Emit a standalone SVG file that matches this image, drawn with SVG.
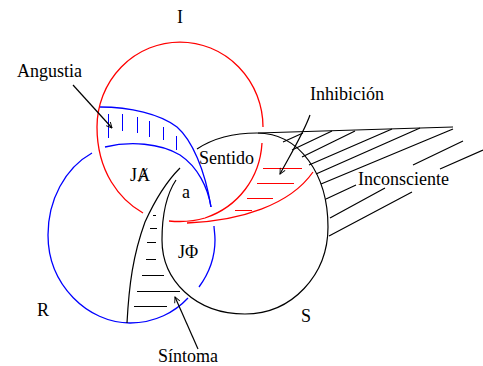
<svg xmlns="http://www.w3.org/2000/svg" width="483" height="366" viewBox="0 0 483 366">
<style>
.r{fill:none;stroke:#ff0000;stroke-width:1.3}
.b{fill:none;stroke:#0000ff;stroke-width:1.3}
.k{fill:none;stroke:#000;stroke-width:1.2}
.h{shape-rendering:crispEdges;stroke-width:1}
.t{font-family:"Liberation Serif","DejaVu Serif",serif;font-size:18px;fill:#000}
</style>
<defs>
<marker id="ah" viewBox="0 0 10 10" refX="9" refY="5" markerWidth="7" markerHeight="7" orient="auto" markerUnits="userSpaceOnUse">
<path d="M1,1 L9,5 L1,9" fill="none" stroke="#000" stroke-width="1.3"/>
</marker>
</defs>
<rect width="483" height="366" fill="#fff"/>

<g id="ring-S">
<path class="k" d="M197,149 C215,137 237,133 257,133 C300,133 328,175 328,227 C328,275 292,314 245,314 C195,314 162,280 162,240 C162,215 166,195 176,180"/>
</g>

<g id="inconsciente">
<path class="k" d="M258,133 L453,127"/>
<path class="k" d="M283,142 L303,133 M292,150 L332,131 M302,157 L355,131 M309,165 L392,129 M316,174 L420,128 M321,184 L453,129 M326,199 L356,185 M413,165 L463,141 M330,218 L385,188 M440,169 L483,150 M329,236 L412,192"/>
</g>

<g id="ring-R">
<path class="b" d="M92,153 C65,168 48,200 48,235 C48,285 88,323 130,323 C155,323 175,312 188,298"/>
<path class="b" d="M199,287 C210,272 215,255 215,240 C215,234 214,229 214,226"/>
<path class="b" d="M105,147 C130,141 160,143 180,155 C198,167 208,188 211,207"/>
</g>

<g id="angustia">
<path class="b" d="M100,107 C130,107 160,114 177,127 C192,140 205,170 211,207"/>
<path class="b h" d="M108.5,114 V138 M122.5,114 V131 M137.5,117 V133 M149.5,121 V137 M163.5,127 V140 M176.5,136 V150"/>
</g>

<g id="ring-I">
<path class="r" d="M143,213 C120,200 97,172 97,127 A83,85 0 0 1 263,127"/>
<path class="r" d="M262,143 C260,178 238,207 205,218 C192,222 180,222 169,221"/>
</g>

<g id="inhibicion">
<path class="r" d="M187,223 C240,221 290,205 313,172"/>
<path class="r h" d="M263,168.5 H302 M257,183.5 H294 M247,198.5 H273 M235,210.5 H252"/>
</g>

<g id="sintoma">
<path class="k" d="M127,323 C129,285 133,255 145,222 C155,200 168,180 180,168"/>
<path class="k h" d="M153,215.5 H156 M150,228.5 H157 M147,242.5 H156 M146,259.5 H156 M142,275.5 H164 M137,291.5 H180 M134,306.5 H167"/>
</g>

<g id="labels">
<text class="t" x="180" y="23" text-anchor="middle">I</text>
<text class="t" x="17" y="77">Angustia</text>
<text class="t" x="310" y="100">Inhibición</text>
<text class="t" x="199" y="164">Sentido</text>
<text class="t" x="358" y="185">Inconsciente</text>
<text class="t" x="130" y="181">JȺ</text>
<text class="t" x="182" y="198">a</text>
<text class="t" x="178" y="258">JΦ</text>
<text class="t" x="37" y="316">R</text>
<text class="t" x="301" y="322">S</text>
<text class="t" x="158" y="362">Síntoma</text>
</g>

<g id="connectors">
<path class="k" d="M73,85 L112,128" marker-end="url(#ah)"/>
<path class="k" d="M310,115 C304,132 292,152 280,174" marker-end="url(#ah)"/>
<path class="k" d="M198,349 L175,297" marker-end="url(#ah)"/>
</g>
</svg>
